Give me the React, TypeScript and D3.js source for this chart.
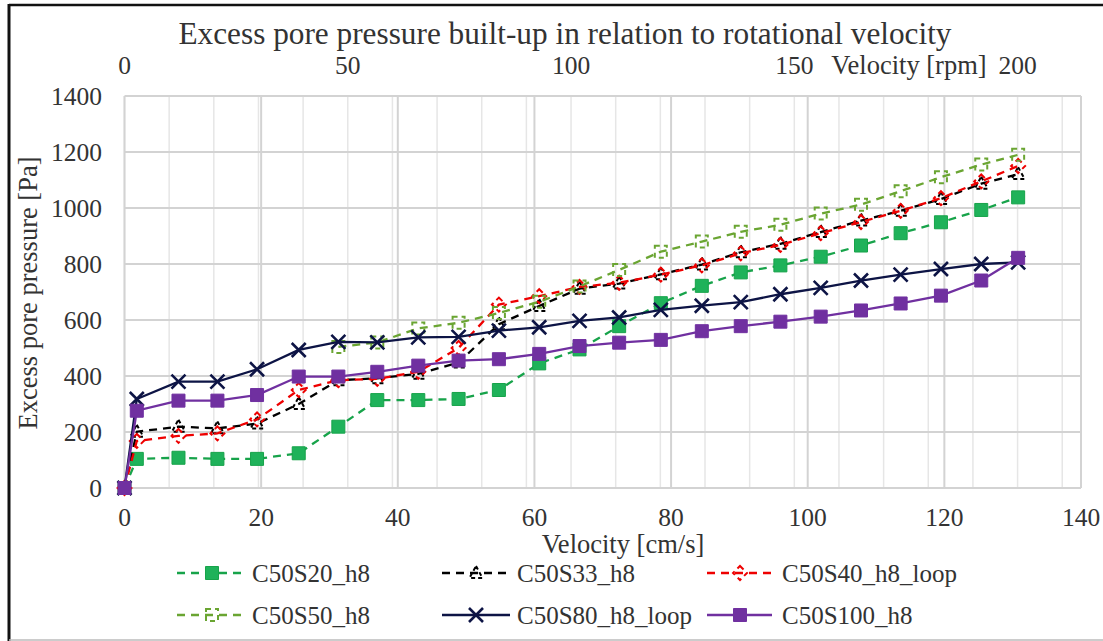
import React from "react";
import * as d3 from "d3";

// ---- data ----
const velocityCms = [0, 1.8, 7.9, 13.6, 19.4, 25.5, 31.3, 37.0, 43.0, 48.9, 54.8, 60.7, 66.6, 72.4, 78.5, 84.5, 90.2, 96.0, 101.9, 107.8, 113.6, 119.5, 125.4, 130.8];

const c50s20 = [0, 104, 108, 104, 104, 124, 219, 314, 314, 318, 350, 445, 495, 578, 660, 722, 770, 795, 826, 866, 910, 949, 993, 1038];
const c50s33 = [0, 201, 219, 213, 230, 300, 385, 392, 408, 448, 585, 650, 712, 730, 763, 798, 842, 872, 914, 955, 990, 1032, 1087, 1121];
const c50s40 = [0, 168, 186, 195, 245, 350, 385, 390, 415, 500, 655, 685, 718, 733, 762, 795, 838, 868, 910, 950, 990, 1035, 1095, 1150];
const c50s50 = [null, null, null, null, null, null, 504, 520, 570, 590, 625, 665, 720, 779, 844, 880, 915, 940, 980, 1012, 1060, 1110, 1155, 1190];
const c50s80 = [0, 318, 380, 380, 424, 493, 522, 520, 538, 540, 562, 574, 597, 609, 636, 651, 664, 692, 715, 741, 762, 782, 800, 806];
const c50s100 = [0, 276, 312, 312, 332, 398, 398, 415, 437, 455, 460, 479, 507, 519, 529, 560, 578, 594, 612, 634, 659, 687, 741, 822];

const seriesNames = ["C50S20_h8", "C50S33_h8", "C50S40_h8_loop", "C50S50_h8", "C50S80_h8_loop", "C50S100_h8"];

const yTicks = [0, 200, 400, 600, 800, 1000, 1200, 1400];
const xTicks = [0, 20, 40, 60, 80, 100, 120, 140];
const rpmTicks = [0, 50, 100, 150, 200];
const rpmMinor = d3.range(0, 220, 10);
const rpmMax = 214.2;

const title = "Excess pore pressure built-up in relation to rotational velocity";
const xTitle = "Velocity [cm/s]";
const yTitle = "Excess pore pressure [Pa]";
const rpmTitle = "Velocity [rpm]";

type Style = {
  color: string;
  fill: string;
  dash: string | null;
  marker: string;
  markerDash: string | null;
};

const styles: Style[] = [
  { color: "#17a34a", fill: "#1fb25a", dash: "8,6", marker: "square", markerDash: null },
  { color: "#000000", fill: "none", dash: "8,6", marker: "triangle", markerDash: "4,3" },
  { color: "#ee0000", fill: "none", dash: "8,6", marker: "diamond", markerDash: "5,4" },
  { color: "#6aa532", fill: "none", dash: "8,6", marker: "squareOpen", markerDash: "5,4" },
  { color: "#0d1445", fill: "none", dash: null, marker: "x", markerDash: null },
  { color: "#7030a0", fill: "#7030a0", dash: null, marker: "squareFill", markerDash: null },
];

const FONT = "Liberation Serif, Times New Roman, serif";
const textStyle = { fontFamily: FONT };

const W = 1103;
const H = 641;

const x = d3.scaleLinear().domain([0, 140]).range([124.5, 1081]);
const xr = d3.scaleLinear().domain([0, rpmMax]).range([124.5, 1081]);
const y = d3.scaleLinear().domain([0, 1400]).range([488, 96]);

function markerPath(kind: string): string {
  switch (kind) {
    case "square":
    case "squareFill":
      return d3.symbol(d3.symbolSquare, 13 * 13)() as string;
    case "squareOpen":
      return d3.symbol(d3.symbolSquare, 12 * 12)() as string;
    case "triangle":
      return "M0,-7L6.5,5L-6.5,5Z";
    case "diamond":
      return "M0,-7L7,0L0,7L-7,0Z";
    case "x":
      return "M-7,-7L7,7M7,-7L-7,7";
    default:
      return "";
  }
}

function Marker({ cx, cy, s }: { cx: number; cy: number; s: Style }) {
  const sw = s.marker === "x" ? 2.6 : s.marker === "square" || s.marker === "squareFill" ? 1 : 2;
  return (
    <path
      d={markerPath(s.marker)}
      transform={`translate(${cx},${cy})`}
      fill={s.fill}
      stroke={s.color}
      strokeWidth={sw}
      strokeDasharray={s.markerDash ?? undefined}
    />
  );
}

export default function App() {
  const allSeries = [c50s20, c50s33, c50s40, c50s50, c50s80, c50s100];
  const line = d3
    .line<[number, number | null]>()
    .defined((d) => d[1] != null)
    .x((d) => x(d[0]))
    .y((d) => y(d[1] as number));

  const legendCols = [
    { x1: 177, x2: 245, mx: 212, tx: 252 },
    { x1: 442, x2: 510, mx: 476, tx: 517 },
    { x1: 707, x2: 772, mx: 740, tx: 782 },
  ];
  const legendRows = [573, 615];

  return (
    <svg
      width={W}
      height={H}
      style={{ position: "absolute", left: 0, top: 0, background: "#fff", fontFamily: FONT }}
    >
      <rect x={0} y={0} width={W} height={H} fill="#fff" />
      {/* frame */}
      <line x1={9} y1={5} x2={W} y2={5} stroke="#111" strokeWidth={2.5} />
      <line x1={9} y1={4} x2={9} y2={H} stroke="#111" strokeWidth={3} />
      <line x1={9} y1={640} x2={W} y2={640} stroke="#bbb" strokeWidth={1.5} />

      {/* secondary (rpm) minor gridlines */}
      {rpmMinor.map((r) => (
        <line key={"r" + r} x1={xr(r)} x2={xr(r)} y1={y(0)} y2={y(1400)} stroke="#e6e6e6" strokeWidth={1.5} />
      ))}
      {/* horizontal gridlines */}
      {yTicks.map((t) => (
        <line key={"h" + t} x1={x(0)} x2={x(140)} y1={y(t)} y2={y(t)} stroke="#d3d3d3" strokeWidth={2} />
      ))}
      {/* primary vertical gridlines */}
      {xTicks.map((t) => (
        <line key={"v" + t} x1={x(t)} x2={x(t)} y1={y(0)} y2={y(1400)} stroke="#d3d3d3" strokeWidth={2} />
      ))}

      {/* title */}
      <text x={565} y={44} textAnchor="middle" fontSize={30.5} fill="#333" style={textStyle} textLength={773} lengthAdjust="spacingAndGlyphs">
        {title}
      </text>

      {/* y tick labels */}
      {yTicks.map((t) => (
        <text key={"yl" + t} x={102} y={y(t)} textAnchor="end" dominantBaseline="central" fontSize={25.5} fill="#333" style={textStyle}>
          {t}
        </text>
      ))}
      {/* x tick labels */}
      {xTicks.map((t) => (
        <text key={"xl" + t} x={x(t)} y={517} textAnchor="middle" dominantBaseline="central" fontSize={25.5} fill="#333" style={textStyle}>
          {t}
        </text>
      ))}
      {/* rpm tick labels */}
      {rpmTicks.map((t) => (
        <text key={"rl" + t} x={xr(t)} y={65} textAnchor="middle" dominantBaseline="central" fontSize={25.5} fill="#333" style={textStyle}>
          {t}
        </text>
      ))}
      <text x={909} y={65} textAnchor="middle" dominantBaseline="central" fontSize={26.5} fill="#333" style={textStyle}>
        {rpmTitle}
      </text>

      {/* axis titles */}
      <text x={623} y={544} textAnchor="middle" dominantBaseline="central" fontSize={26.5} fill="#333" style={textStyle}>
        {xTitle}
      </text>
      <text
        transform={`translate(28,293) rotate(-90)`}
        textAnchor="middle"
        dominantBaseline="central"
        fontSize={26.5}
        fill="#333"
        style={textStyle}
      >
        {yTitle}
      </text>

      {/* series */}
      {allSeries.map((vals, i) => {
        const s = styles[i];
        const pts = velocityCms.map((v, j) => [v, vals[j]] as [number, number | null]);
        return (
          <g key={"s" + i}>
            <path
              d={line(pts) as string}
              fill="none"
              stroke={s.color}
              strokeWidth={2.3}
              strokeDasharray={s.dash ?? undefined}
            />
            {pts
              .filter((p) => p[1] != null)
              .map((p, j) => (
                <Marker key={j} cx={x(p[0])} cy={y(p[1] as number)} s={s} />
              ))}
          </g>
        );
      })}

      {/* legend */}
      {seriesNames.map((name, i) => {
        const col = legendCols[i % 3];
        const ry = legendRows[Math.floor(i / 3)];
        const s = styles[i];
        return (
          <g key={"lg" + i}>
            <line
              x1={col.x1}
              x2={col.x2}
              y1={ry}
              y2={ry}
              stroke={s.color}
              strokeWidth={2.3}
              strokeDasharray={s.dash ?? undefined}
            />
            <Marker cx={col.mx} cy={ry} s={s} />
            <text x={col.tx} y={ry} dominantBaseline="central" fontSize={25} fill="#333" style={textStyle}>
              {name}
            </text>
          </g>
        );
      })}
    </svg>
  );
}
